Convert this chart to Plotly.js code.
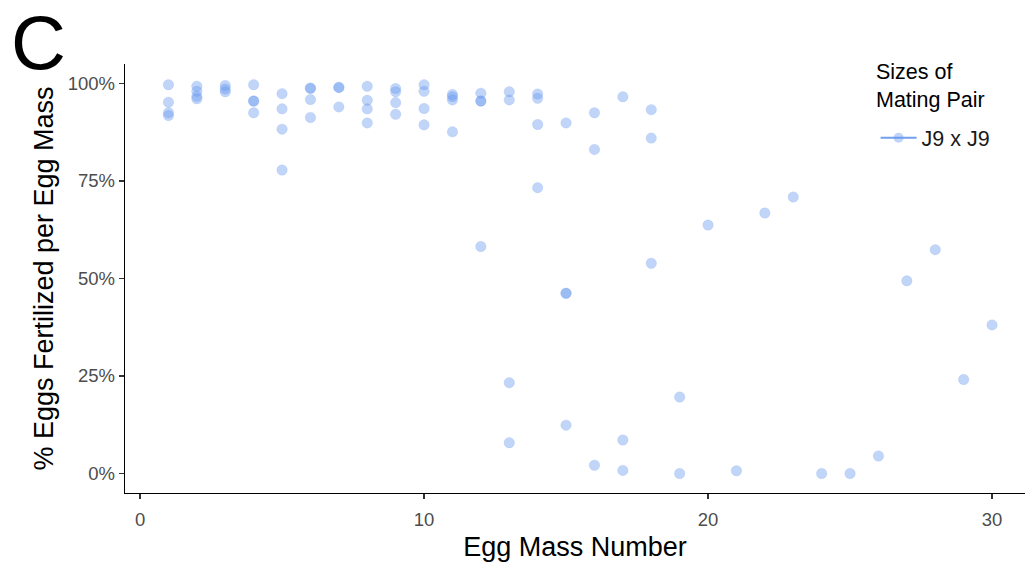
<!DOCTYPE html>
<html>
<head>
<meta charset="utf-8">
<script src="https://cdn.plot.ly/plotly-3.0.1.min.js"></script>
<style>html,body{margin:0;padding:0;background:#fff;}#chart{width:1026px;height:564px;}</style>
</head>
<body>
<div id="chart"></div>
<script>
// Egg mass number (x) and % eggs fertilized per egg mass (y), pair J9 x J9
const eggMass = [
  1,1,1,1,
  2,2,2,2,
  3,3,3,
  4,4,4,4,
  5,5,5,5,
  6,6,6,6,
  7,7,7,
  8,8,8,8,
  9,9,9,9,
  10,10,10,10,
  11,11,11,11,
  12,12,12,12,
  13,13,13,13,
  14,14,14,14,
  15,15,15,15,
  16,16,16,
  17,17,17,
  18,18,18,
  19,19,
  20,21,22,23,24,25,26,27,28,29,30
];
const pctFertilized = [
  99.7,95.2,92.5,91.8,
  99.3,98.0,96.7,96.1,
  99.5,98.6,97.9,
  99.7,95.5,95.5,92.5,
  97.4,93.5,88.3,77.8,
  98.8,98.8,95.9,91.3,
  99.0,99.0,94.0,
  99.3,95.7,93.5,89.9,
  98.7,97.9,95.1,92.1,
  99.7,98.0,93.6,89.4,
  97.2,96.6,95.8,87.6,
  97.5,95.5,95.5,58.2,
  97.9,95.8,23.3,7.9,
  97.3,96.2,89.5,73.3,
  89.9,46.2,46.2,12.4,
  92.5,83.1,2.1,
  96.6,8.6,0.8,
  93.3,86.0,53.9,
  19.6,0,
  63.7,0.7,66.8,70.9,0,0,4.5,49.4,57.4,24.1,38.1
];
const seriesName = "J9 x J9";
const legendTitle = "Sizes of<br>Mating Pair";
const yTicks = [0,25,50,75,100];
const yTickLabels = ["0%","25%","50%","75%","100%"];
const xTicks = [0,10,20,30];

const pointColor = "rgba(100,149,237,0.4)";
const font = "Liberation Sans, Arial, sans-serif";

const traces = [
  {
    x: eggMass, y: pctFertilized, type: "scatter", mode: "markers",
    marker: {size: 10.5, color: pointColor, line: {width: 0.6, color: "rgba(100,149,237,0.25)"}},
    showlegend: false, hoverinfo: "x+y"
  },
  {
    x: [null], y: [null], type: "scatter", mode: "lines+markers",
    name: seriesName,
    line: {color: "rgba(100,149,237,0.9)", width: 2.2},
    marker: {size: 10, color: pointColor, line: {width: 0}},
    showlegend: true
  }
];

const layout = {
  width: 1026, height: 564,
  margin: {l: 125, r: 1, t: 64, b: 71, pad: 0},
  paper_bgcolor: "#fff", plot_bgcolor: "#fff",
  font: {family: font, color: "#000"},
  xaxis: {
    range: [-0.53, 31.16], tickmode: "array", tickvals: xTicks,
    showgrid: false, zeroline: false,
    showline: true, linecolor: "#000", linewidth: 1.3,
    ticks: "outside", ticklen: 5, tickcolor: "#333", tickwidth: 1.2,
    ticklabelstandoff: 4,
    tickfont: {size: 18.5, color: "#4d4d4d", family: font},
    title: {text: "Egg Mass Number", font: {size: 27, color: "#000", family: font}, standoff: 8}
  },
  yaxis: {
    range: [-5, 105], tickmode: "array", tickvals: yTicks, ticktext: yTickLabels,
    showgrid: false, zeroline: false,
    showline: true, linecolor: "#000", linewidth: 1.3,
    ticks: "outside", ticklen: 5, tickcolor: "#333", tickwidth: 1.2,
    tickfont: {size: 18.5, color: "#4d4d4d", family: font},
    title: {text: "% Eggs Fertilized per Egg Mass", font: {size: 27, color: "#000", family: font}, standoff: 6}
  },
  legend: {
    x: 0.834, y: 0.828, xanchor: "left", yanchor: "middle",
    bgcolor: "rgba(0,0,0,0)",
    font: {size: 21.5, color: "#1a1a1a", family: font},
    itemwidth: 36
  },
  annotations: [
    {text: "C", xref: "paper", yref: "paper", x: -0.096, y: 1.05,
     xanchor: "center", yanchor: "middle", showarrow: false,
     font: {size: 76, color: "#000", family: font}},
    {text: legendTitle, xref: "paper", yref: "paper", x: 0.832, y: 1.015,
     xanchor: "left", yanchor: "top", align: "left", showarrow: false,
     font: {size: 21.5, color: "#000", family: font}}
  ]
};

Plotly.newPlot("chart", traces, layout, {displayModeBar: false, staticPlot: true});
</script>
</body>
</html>
